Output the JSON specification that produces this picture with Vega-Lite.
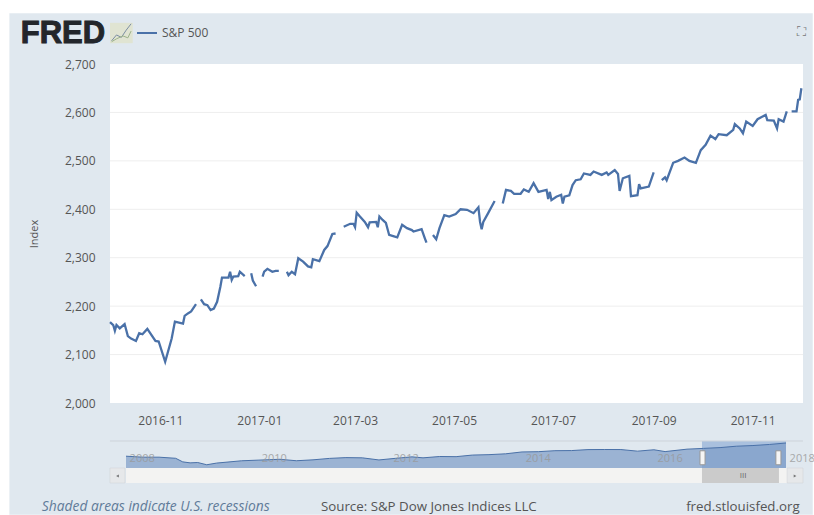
{"$schema":"https://vega.github.io/schema/vega-lite/v6.json","width":693,"height":339,"autosize":{"type":"none"},"padding":{"left":110,"top":64,"right":11,"bottom":112},"background":"white","config":{"view":{"stroke":null},"font":"Open Sans"},"datasets":{"sp":[{"d":"2016-10-01","v":2167},{"d":"2016-10-03","v":2161},{"d":"2016-10-04","v":2149},{"d":"2016-10-05","v":2161},{"d":"2016-10-07","v":2154},{"d":"2016-10-10","v":2163},{"d":"2016-10-12","v":2138},{"d":"2016-10-14","v":2133},{"d":"2016-10-17","v":2128},{"d":"2016-10-19","v":2144},{"d":"2016-10-21","v":2142},{"d":"2016-10-24","v":2153},{"d":"2016-10-29","v":2128},{"d":"2016-10-31","v":2127},{"d":"2016-11-04","v":2085},{"d":"2016-11-08","v":2133},{"d":"2016-11-10","v":2168},{"d":"2016-11-15","v":2164},{"d":"2016-11-16","v":2180},{"d":"2016-11-18","v":2185},{"d":"2016-11-20","v":2189},{"d":"2016-11-23","v":2204},{"d":"2016-11-24","v":null},{"d":"2016-11-26","v":2214},{"d":"2016-11-28","v":2204},{"d":"2016-11-30","v":2202},{"d":"2016-12-02","v":2192},{"d":"2016-12-04","v":2195},{"d":"2016-12-06","v":2209},{"d":"2016-12-08","v":2240},{"d":"2016-12-09","v":2259},{"d":"2016-12-13","v":2259},{"d":"2016-12-14","v":2271},{"d":"2016-12-15","v":2254},{"d":"2016-12-16","v":2261},{"d":"2016-12-19","v":2262},{"d":"2016-12-20","v":2271},{"d":"2016-12-23","v":2262},{"d":"2016-12-25","v":null},{"d":"2016-12-27","v":2268},{"d":"2016-12-28","v":2253},{"d":"2016-12-30","v":2241},{"d":"2017-01-01","v":null},{"d":"2017-01-03","v":2261},{"d":"2017-01-04","v":2271},{"d":"2017-01-06","v":2277},{"d":"2017-01-09","v":2271},{"d":"2017-01-11","v":2273},{"d":"2017-01-13","v":2273},{"d":"2017-01-15","v":null},{"d":"2017-01-18","v":2271},{"d":"2017-01-19","v":2264},{"d":"2017-01-21","v":2271},{"d":"2017-01-23","v":2266},{"d":"2017-01-25","v":2299},{"d":"2017-01-28","v":2292},{"d":"2017-01-31","v":2282},{"d":"2017-02-02","v":2280},{"d":"2017-02-03","v":2297},{"d":"2017-02-07","v":2293},{"d":"2017-02-10","v":2316},{"d":"2017-02-12","v":2324},{"d":"2017-02-15","v":2349},{"d":"2017-02-17","v":2350},{"d":"2017-02-19","v":null},{"d":"2017-02-22","v":2364},{"d":"2017-02-26","v":2370},{"d":"2017-02-28","v":2370},{"d":"2017-03-01","v":2363},{"d":"2017-03-02","v":2393},{"d":"2017-03-04","v":2385},{"d":"2017-03-07","v":2374},{"d":"2017-03-09","v":2363},{"d":"2017-03-10","v":2373},{"d":"2017-03-14","v":2374},{"d":"2017-03-15","v":2363},{"d":"2017-03-16","v":2385},{"d":"2017-03-18","v":2378},{"d":"2017-03-20","v":2372},{"d":"2017-03-22","v":2347},{"d":"2017-03-24","v":2345},{"d":"2017-03-27","v":2342},{"d":"2017-03-30","v":2368},{"d":"2017-04-02","v":2361},{"d":"2017-04-05","v":2357},{"d":"2017-04-06","v":2354},{"d":"2017-04-11","v":2359},{"d":"2017-04-13","v":2340},{"d":"2017-04-14","v":2331},{"d":"2017-04-16","v":null},{"d":"2017-04-18","v":2347},{"d":"2017-04-20","v":2338},{"d":"2017-04-22","v":2361},{"d":"2017-04-25","v":2388},{"d":"2017-04-28","v":2385},{"d":"2017-05-02","v":2390},{"d":"2017-05-05","v":2400},{"d":"2017-05-09","v":2399},{"d":"2017-05-13","v":2392},{"d":"2017-05-16","v":2404},{"d":"2017-05-17","v":2374},{"d":"2017-05-18","v":2359},{"d":"2017-05-19","v":2374},{"d":"2017-05-22","v":2392},{"d":"2017-05-26","v":2417},{"d":"2017-05-29","v":null},{"d":"2017-05-31","v":2412},{"d":"2017-06-02","v":2440},{"d":"2017-06-05","v":2438},{"d":"2017-06-07","v":2432},{"d":"2017-06-11","v":2432},{"d":"2017-06-13","v":2441},{"d":"2017-06-16","v":2436},{"d":"2017-06-19","v":2454},{"d":"2017-06-22","v":2436},{"d":"2017-06-27","v":2440},{"d":"2017-06-28","v":2421},{"d":"2017-06-29","v":2436},{"d":"2017-06-30","v":2419},{"d":"2017-07-03","v":2426},{"d":"2017-07-06","v":2430},{"d":"2017-07-07","v":2412},{"d":"2017-07-08","v":2426},{"d":"2017-07-11","v":2429},{"d":"2017-07-13","v":2450},{"d":"2017-07-15","v":2460},{"d":"2017-07-18","v":2462},{"d":"2017-07-20","v":2474},{"d":"2017-07-24","v":2471},{"d":"2017-07-26","v":2478},{"d":"2017-07-31","v":2471},{"d":"2017-08-03","v":2476},{"d":"2017-08-04","v":2471},{"d":"2017-08-08","v":2481},{"d":"2017-08-10","v":2473},{"d":"2017-08-11","v":2438},{"d":"2017-08-13","v":2464},{"d":"2017-08-17","v":2469},{"d":"2017-08-18","v":2427},{"d":"2017-08-22","v":2429},{"d":"2017-08-23","v":2452},{"d":"2017-08-24","v":2443},{"d":"2017-08-29","v":2447},{"d":"2017-09-01","v":2476},{"d":"2017-09-04","v":null},{"d":"2017-09-06","v":2460},{"d":"2017-09-08","v":2466},{"d":"2017-09-09","v":2460},{"d":"2017-09-13","v":2496},{"d":"2017-09-16","v":2500},{"d":"2017-09-20","v":2507},{"d":"2017-09-23","v":2500},{"d":"2017-09-27","v":2496},{"d":"2017-09-30","v":2522},{"d":"2017-10-03","v":2533},{"d":"2017-10-06","v":2552},{"d":"2017-10-09","v":2545},{"d":"2017-10-11","v":2555},{"d":"2017-10-16","v":2553},{"d":"2017-10-20","v":2564},{"d":"2017-10-21","v":2576},{"d":"2017-10-24","v":2567},{"d":"2017-10-26","v":2557},{"d":"2017-10-28","v":2581},{"d":"2017-11-01","v":2572},{"d":"2017-11-04","v":2586},{"d":"2017-11-09","v":2595},{"d":"2017-11-10","v":2584},{"d":"2017-11-14","v":2583},{"d":"2017-11-16","v":2567},{"d":"2017-11-17","v":2586},{"d":"2017-11-20","v":2581},{"d":"2017-11-22","v":2602},{"d":"2017-11-23","v":null},{"d":"2017-11-25","v":2602},{"d":"2017-11-28","v":2602},{"d":"2017-11-29","v":2626},{"d":"2017-11-30","v":2627},{"d":"2017-12-01","v":2650}],"nav":[{"d":"2007-12-01","v":1468},{"d":"2008-03-01","v":1380},{"d":"2008-06-01","v":1380},{"d":"2008-09-01","v":1280},{"d":"2008-10-10","v":960},{"d":"2008-11-20","v":870},{"d":"2009-01-01","v":900},{"d":"2009-02-20","v":700},{"d":"2009-04-15","v":850},{"d":"2009-09-01","v":1057},{"d":"2009-12-01","v":1115},{"d":"2010-04-01","v":1190},{"d":"2010-07-01","v":1060},{"d":"2010-10-01","v":1141},{"d":"2011-01-01","v":1271},{"d":"2011-04-01","v":1340},{"d":"2011-07-01","v":1320},{"d":"2011-10-01","v":1131},{"d":"2012-01-01","v":1277},{"d":"2012-04-01","v":1408},{"d":"2012-06-01","v":1320},{"d":"2012-09-01","v":1440},{"d":"2012-12-01","v":1426},{"d":"2013-03-01","v":1569},{"d":"2013-06-01","v":1606},{"d":"2013-09-01","v":1681},{"d":"2013-12-01","v":1848},{"d":"2014-03-01","v":1872},{"d":"2014-06-01","v":1960},{"d":"2014-09-01","v":1972},{"d":"2014-12-01","v":2058},{"d":"2015-03-01","v":2067},{"d":"2015-06-01","v":2063},{"d":"2015-09-01","v":1920},{"d":"2015-12-01","v":2043},{"d":"2016-02-01","v":1880},{"d":"2016-06-01","v":2098},{"d":"2016-09-01","v":2168},{"d":"2016-12-01","v":2238},{"d":"2017-03-01","v":2362},{"d":"2017-06-01","v":2423},{"d":"2017-09-01","v":2519},{"d":"2017-12-01","v":2650}]},"layer":[{"layer":[{"data":{"values":[{"a":"2016-07-31","b":"2017-12-08","c":1769,"e":2805}]},"mark":{"type":"rect","fill":"#e0e8ef"},"encoding":{"x":{"field":"a","type":"temporal","scale":{"type":"utc","domain":["2016-10-01","2017-12-02"],"nice":false},"axis":{"tickCount":{"interval":"month","step":2},"labelExpr":"utcFormat(datum.value,'%Y-%m')","title":null,"grid":false,"domain":false,"ticks":false,"labelPadding":12,"labelFontSize":12,"labelColor":"#555555","zindex":1}},"x2":{"field":"b"},"y":{"field":"c","type":"quantitative","scale":{"domain":[2000,2700],"nice":false,"zero":false},"axis":{"title":"Index","labelExpr":"format(datum.value,',')","titleFontSize":11,"titleFontWeight":"normal","titleColor":"#555555","titlePadding":25,"values":[2000,2100,2200,2300,2400,2500,2600,2700],"grid":false,"domain":false,"ticks":false,"labelPadding":15,"labelFontSize":12,"labelColor":"#555555","zindex":1}},"y2":{"field":"e"}}},{"data":{"values":[{"a":"2016-10-01","b":"2017-12-02","c":2000,"e":2700}]},"mark":{"type":"rect","fill":"#ffffff"},"encoding":{"x":{"field":"a","type":"temporal"},"x2":{"field":"b"},"y":{"field":"c","type":"quantitative"},"y2":{"field":"e"}}},{"data":{"values":[{"v":2100},{"v":2200},{"v":2300},{"v":2400},{"v":2500},{"v":2600}]},"mark":{"type":"rule","stroke":"#eeeeee","strokeWidth":1},"encoding":{"y":{"field":"v","type":"quantitative"}}},{"data":{"name":"sp"},"transform":[{"calculate":"'S&P 500'","as":"series"}],"mark":{"type":"line","strokeWidth":2.3,"clip":false},"encoding":{"x":{"field":"d","type":"temporal"},"y":{"field":"v","type":"quantitative"},"color":{"field":"series","type":"nominal","scale":{"domain":["S&P 500"],"range":["#4a71a8"]},"legend":{"orient":"none","legendX":26,"legendY":-42,"title":null,"symbolType":"stroke","symbolSize":400,"symbolStrokeWidth":2,"labelFontSize":12,"labelColor":"#555555","padding":0}}}},{"data":{"values":[{"d":"2016-08-07","v":2743,"t":"FRED"}]},"mark":{"type":"text","align":"left","baseline":"alphabetic","font":"Liberation Sans","fontSize":31,"fontWeight":"bold","fill":"#23262b","stroke":"#23262b","strokeWidth":1},"encoding":{"x":{"field":"d","type":"temporal"},"y":{"field":"v","type":"quantitative"},"text":{"field":"t"}}},{"data":{"values":[{"a":"2016-10-01","b":"2016-10-15","c":2743,"e":2785}]},"mark":{"type":"rect","fill":"#e0e4d2"},"encoding":{"x":{"field":"a","type":"temporal"},"x2":{"field":"b"},"y":{"field":"c","type":"quantitative"},"y2":{"field":"e"}}},{"data":{"values":[{"d":"2016-10-02","v":2748},{"d":"2016-10-05","v":2760},{"d":"2016-10-08","v":2755},{"d":"2016-10-11","v":2770},{"d":"2016-10-14","v":2783}]},"mark":{"type":"line","stroke":"#7c8ea3","strokeWidth":1},"encoding":{"x":{"field":"d","type":"temporal"},"y":{"field":"v","type":"quantitative"}}},{"data":{"values":[{"d":"2016-10-02","v":2746},{"d":"2016-10-05","v":2752},{"d":"2016-10-09","v":2758},{"d":"2016-10-12","v":2754},{"d":"2016-10-14","v":2768}]},"mark":{"type":"line","stroke":"#9db38b","strokeWidth":1},"encoding":{"x":{"field":"d","type":"temporal"},"y":{"field":"v","type":"quantitative"}}},{"data":{"values":[{"d":"2016-08-20","v":1785,"t":"Shaded areas indicate U.S. recessions"}]},"mark":{"type":"text","align":"left","baseline":"middle","fontSize":13.8,"fontStyle":"italic","fill":"#5f7b99"},"encoding":{"x":{"field":"d","type":"temporal"},"y":{"field":"v","type":"quantitative"},"text":{"field":"t"}}},{"data":{"values":[{"d":"2017-02-08","v":1785,"t":"Source: S&P Dow Jones Indices LLC"},{"d":"2017-09-21","v":1785,"t":"fred.stlouisfed.org"}]},"mark":{"type":"text","align":"left","baseline":"middle","fontSize":13.3,"fill":"#555555"},"encoding":{"x":{"field":"d","type":"temporal"},"y":{"field":"v","type":"quantitative"},"text":{"field":"t"}}},{"data":{"values":[{"d":"2017-12-01","v":2766,"t":"⛶"}]},"mark":{"type":"text","align":"center","baseline":"middle","fontSize":13,"font":"DejaVu Sans","fill":"#777777"},"encoding":{"x":{"field":"d","type":"temporal"},"y":{"field":"v","type":"quantitative"},"text":{"field":"t"}}}]},{"layer":[{"data":{"values":[{"a":"2016-08-23","b":"2017-12-01","c":410,"e":2829}]},"mark":{"type":"rect","fill":"#a9c0de"},"encoding":{"x":{"field":"a","type":"temporal","scale":{"type":"utc","domain":["2007-12-01","2017-12-01"],"range":[16,676],"nice":false},"axis":null},"x2":{"field":"b"},"y":{"field":"c","type":"quantitative","scale":{"domain":[410,2829],"range":[404,377],"nice":false,"zero":false},"axis":null},"y2":{"field":"e"}}},{"data":{"values":[{"d":"2007-09-03","b":"2018-03-05","v":2829}]},"mark":{"type":"rule","stroke":"#cdd3da","strokeWidth":1},"encoding":{"x":{"field":"d","type":"temporal"},"x2":{"field":"b"},"y":{"field":"v","type":"quantitative"}}},{"data":{"name":"nav"},"mark":{"type":"area","fill":"#7e9cc8","line":{"stroke":"#4a71a8","strokeWidth":1}},"encoding":{"x":{"field":"d","type":"temporal"},"y":{"field":"v","type":"quantitative"}}},{"data":{"values":[{"d":"2008-01-01","t":"2008","v":1215},{"d":"2010-01-01","t":"2010","v":1215},{"d":"2012-01-01","t":"2012","v":1215},{"d":"2014-01-01","t":"2014","v":1215},{"d":"2016-01-01","t":"2016","v":1215},{"d":"2018-01-01","t":"2018","v":1215}]},"mark":{"type":"text","align":"left","baseline":"middle","fontSize":11,"dx":-2,"fill":"#999999","opacity":0.8},"encoding":{"x":{"field":"d","type":"temporal"},"y":{"field":"v","type":"quantitative"},"text":{"field":"t"}}},{"data":{"values":[{"a":"2007-12-01","b":"2017-12-07","c":-933,"e":410}]},"mark":{"type":"rect","fill":"#f3f3f2"},"encoding":{"x":{"field":"a","type":"temporal"},"x2":{"field":"b"},"y":{"field":"c","type":"quantitative"},"y2":{"field":"e"}}},{"data":{"values":[{"a":"2016-08-23","b":"2017-10-23","c":-933,"e":410}]},"mark":{"type":"rect","fill":"#cbcbcb"},"encoding":{"x":{"field":"a","type":"temporal"},"x2":{"field":"b"},"y":{"field":"c","type":"quantitative"},"y2":{"field":"e"}}},{"data":{"values":[{"a":"2007-09-03","b":"2007-11-25","c":-933,"e":410},{"a":"2017-12-07","b":"2018-03-05","c":-933,"e":410}]},"mark":{"type":"rect","fill":"#e6e8ea","stroke":"#d0d3d6","strokeWidth":0.5},"encoding":{"x":{"field":"a","type":"temporal"},"x2":{"field":"b"},"y":{"field":"c","type":"quantitative"},"y2":{"field":"e"}}},{"data":{"values":[{"a":"2016-08-12","b":"2016-09-09","c":700,"e":1950},{"a":"2017-10-06","b":"2017-11-03","c":700,"e":1950}]},"mark":{"type":"rect","fill":"#f5f5f5","stroke":"#999999","strokeWidth":1},"encoding":{"x":{"field":"a","type":"temporal"},"x2":{"field":"b"},"y":{"field":"c","type":"quantitative"},"y2":{"field":"e"}}},{"data":{"values":[{"d":"2007-10-15","v":-306}]},"mark":{"type":"point","shape":"triangle-left","filled":true,"size":10,"fill":"#444444"},"encoding":{"x":{"field":"d","type":"temporal"},"y":{"field":"v","type":"quantitative"}}},{"data":{"values":[{"d":"2018-01-20","v":-306}]},"mark":{"type":"point","shape":"triangle-right","filled":true,"size":10,"fill":"#444444"},"encoding":{"x":{"field":"d","type":"temporal"},"y":{"field":"v","type":"quantitative"}}},{"data":{"values":[{"d":"2017-03-20","v":-290,"t":"III"}]},"mark":{"type":"text","align":"left","baseline":"middle","fontSize":8,"fill":"#666666"},"encoding":{"x":{"field":"d","type":"temporal"},"y":{"field":"v","type":"quantitative"},"text":{"field":"t"}}}]}],"resolve":{"scale":{"x":"independent","y":"independent"}}}
